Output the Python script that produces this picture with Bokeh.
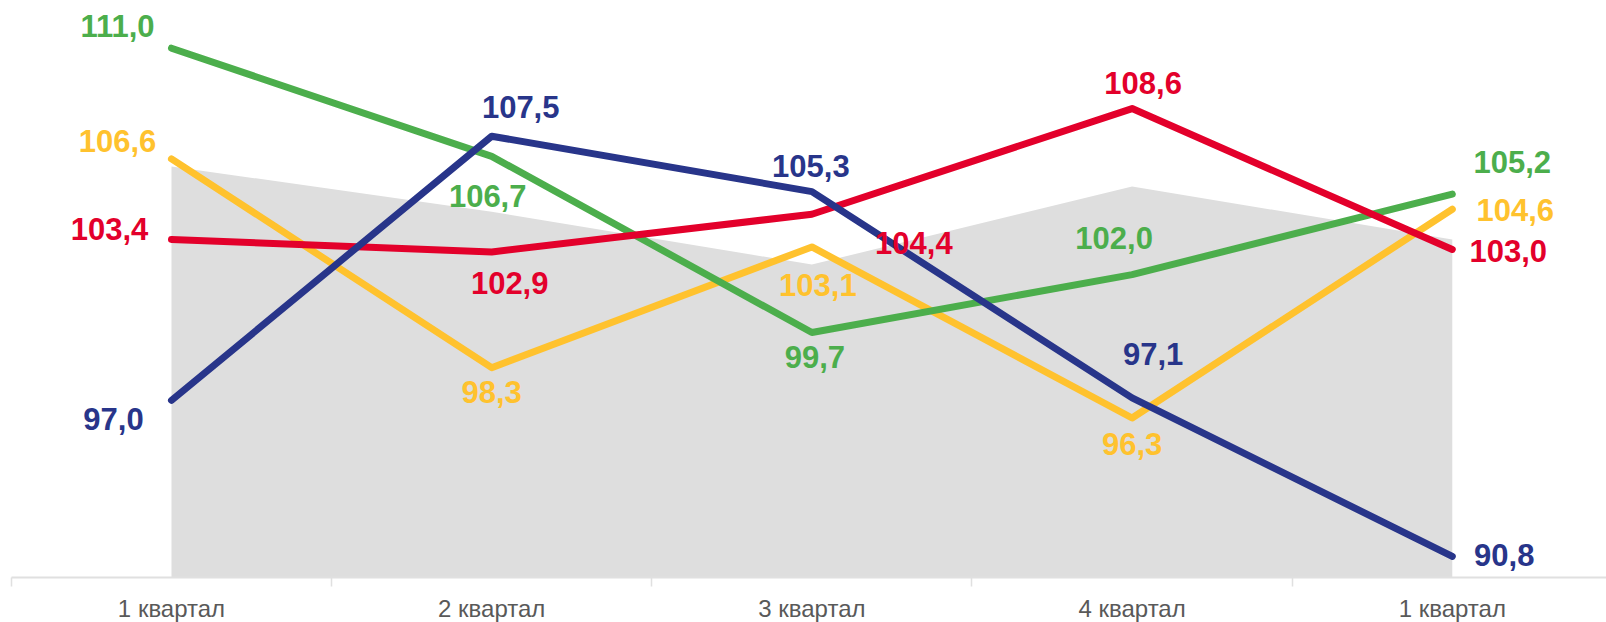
from bokeh.plotting import figure
from bokeh.models import ColumnDataSource, Range1d, FixedTicker
from bokeh.core.properties import value
from bokeh.embed import file_html
from bokeh.resources import INLINE

# ---- data ----
categories = ["1 квартал", "2 квартал", "3 квартал", "4 квартал", "1 квартал"]
area_values = [106.3, 104.5, 102.4, 105.5, 103.4]
green_values = [111.0, 106.7, 99.7, 102.0, 105.2]
yellow_values = [106.6, 98.3, 103.1, 96.3, 104.6]
red_values = [103.4, 102.9, 104.4, 108.6, 103.0]
blue_values = [97.0, 107.5, 105.3, 97.1, 90.8]

# ---- label placement (screen px offsets from the point) ----
green_off = [(-54, -22), (-4, 40), (3, 25), (-18, -37), (60, -32)]
yellow_off = [(-54, -18), (0, 24), (6, 38), (0, 26), (63, 1)]
red_off = [(-62, -10), (18, 31), (102, 29), (11, -26), (56, 2)]
blue_off = [(-58, 19), (29, -29), (-1, -26), (21, -44), (52, -1)]

colors = {
    "green": "#4CAE4C",
    "yellow": "#FFC22E",
    "red": "#E3002B",
    "blue": "#28358A",
}

xs = list(range(len(categories)))
y_start, y_end = 89.96, 112.896

p = figure(
    frame_width=1606, frame_height=577,
    x_range=Range1d(-0.534, 4.4816), y_range=Range1d(y_start, y_end),
    output_backend="svg", toolbar_location=None,
    y_axis_location=None,
    min_border=0, min_border_left=0, min_border_right=0, min_border_top=0,
)
p.outline_line_color = None
p.xgrid.grid_line_color = None
p.ygrid.grid_line_color = None
p.background_fill_color = "white"
p.border_fill_color = "white"

# gray background area
p.varea(x=xs, y1=[y_start] * len(xs), y2=area_values, fill_color="#DEDEDE", fill_alpha=1.0)

series = [
    (yellow_values, colors["yellow"], yellow_off),
    (green_values, colors["green"], green_off),
    (red_values, colors["red"], red_off),
    (blue_values, colors["blue"], blue_off),
]

for vals, col, off in series:
    p.line(xs, vals, line_color=col, line_width=7, line_cap="round", line_join="round")

for vals, col, off in series:
    src = ColumnDataSource(dict(
        x=xs, y=vals,
        label=[f"{v:.1f}".replace(".", ",") for v in vals],
        dx=[o[0] for o in off], dy=[o[1] for o in off],
    ))
    p.text(x="x", y="y", text="label", source=src,
           x_offset="dx", y_offset="dy",
           text_align="center", text_baseline="middle",
           text_font=value("Liberation Sans"), text_font_style="bold",
           text_font_size="31px", text_color=col)

ax = p.xaxis[0]
ax.ticker = FixedTicker(ticks=xs, minor_ticks=[i - 0.5 for i in range(len(xs) + 1)])
ax.major_label_overrides = {i: c for i, c in enumerate(categories)}
ax.bounds = (-0.5, 4.5)
ax.axis_line_color = "#E0E0E0"
ax.axis_line_width = 2
ax.major_tick_line_color = None
ax.major_tick_out = 0
ax.major_tick_in = 0
ax.minor_tick_line_color = "#E0E0E0"
ax.minor_tick_line_width = 1.5
ax.minor_tick_in = 0
ax.minor_tick_out = 9
ax.major_label_standoff = 8
ax.major_label_text_font = "Liberation Sans"
ax.major_label_text_font_size = "24px"
ax.major_label_text_color = "#595959"

open("out.html", "w").write(file_html(p, INLINE))
